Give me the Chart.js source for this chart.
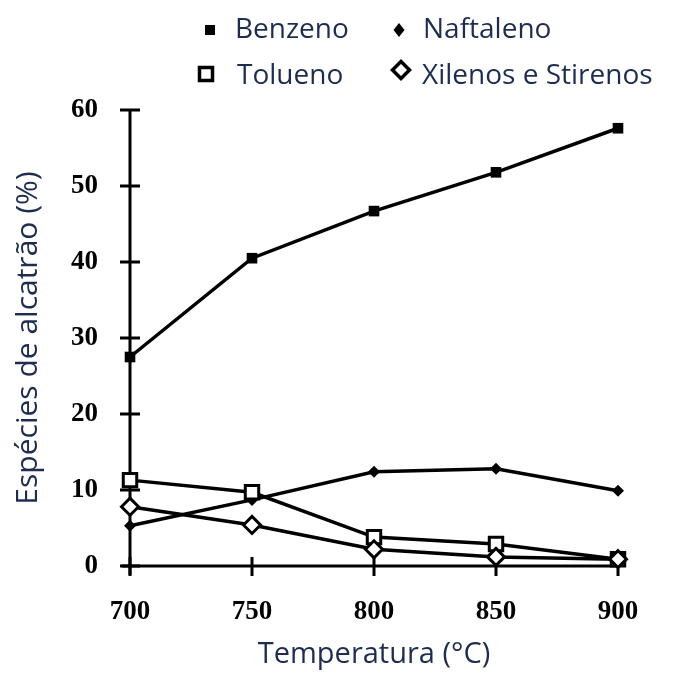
<!DOCTYPE html>
<html>
<head>
<meta charset="utf-8">
<script src="https://cdn.jsdelivr.net/npm/chart.js@4/dist/chart.umd.min.js"></script>
<style>
  html, body { margin: 0; padding: 0; background: #ffffff; }
  #wrap { position: relative; width: 673px; height: 673px; }
  #chart { position: absolute; left: 0; top: 0; }
  .lg { position: absolute; font-family: "Open Sans", sans-serif; font-size: 28px; line-height: 38px; color: #1e2d4f; white-space: nowrap; }
  .mk { position: absolute; }
</style>
</head>
<body>
<div id="wrap">
  <canvas id="chart" width="673" height="673"></canvas>
  <svg class="mk" style="left:204px;top:24px" width="12" height="12"><rect x="1" y="1" width="10" height="10" fill="#000"/></svg>
  <div class="lg" style="left:235px;top:8px">Benzeno</div>
  <svg class="mk" style="left:392px;top:22px" width="14" height="16"><polygon points="7,1 12.5,8 7,15 1.5,8" fill="#000"/></svg>
  <div class="lg" style="left:423px;top:8px">Naftaleno</div>
  <svg class="mk" style="left:197px;top:65px" width="18" height="18"><rect x="2.5" y="2.5" width="13" height="13" fill="#fff" stroke="#000" stroke-width="3.5"/></svg>
  <div class="lg" style="left:237px;top:54px">Tolueno</div>
  <svg class="mk" style="left:390px;top:59px" width="22" height="22"><polygon points="11,2.5 19.5,11 11,19.5 2.5,11" fill="#fff" stroke="#000" stroke-width="3.5"/></svg>
  <div class="lg" style="left:422px;top:54px">Xilenos e Stirenos</div>
</div>
<script>
// ---- data ----
const temperatures = [700, 750, 800, 850, 900];
const benzeno   = [27.5, 40.5, 46.7, 51.8, 57.6];
const naftaleno = [5.3, 8.7, 12.4, 12.8, 9.9];
const tolueno   = [11.3, 9.7, 3.8, 2.9, 0.9];
const xilenos   = [7.8, 5.4, 2.2, 1.2, 0.9];
const seriesNames = ["Benzeno", "Naftaleno", "Tolueno", "Xilenos e Stirenos"];
const xTicks = [700, 750, 800, 850, 900];
const yTicks = [0, 10, 20, 30, 40, 50, 60];
const xTitle = "Temperatura (°C)";
const yTitle = "Espécies de alcatrão (%)";

const toPoints = vals => vals.map((v, i) => ({ x: temperatures[i], y: v }));

const titleColor = "#1e2d4f";
const tickFont = { family: "Liberation Serif", size: 27, weight: "bold" };

const crossTicks = {
  id: "crossTicks",
  beforeDatasetsDraw(chart) {
    const { ctx } = chart;
    const xs = chart.scales.x, ys = chart.scales.y;
    const x0 = xs.getPixelForValue(700);
    const y0 = ys.getPixelForValue(0);
    ctx.save();
    ctx.strokeStyle = "#000";
    ctx.lineWidth = 3;
    ctx.lineCap = "butt";
    ctx.beginPath();
    ctx.moveTo(x0, ys.getPixelForValue(60));
    ctx.lineTo(x0, y0 + 9);
    ctx.moveTo(x0 - 8, y0);
    ctx.lineTo(xs.getPixelForValue(900) + 2, y0);
    ctx.stroke();
    ctx.beginPath();
    yTicks.forEach(v => {
      const y = ys.getPixelForValue(v);
      ctx.moveTo(x0 - 10, y);
      ctx.lineTo(x0 + 10, y);
    });
    xTicks.forEach(v => {
      const x = xs.getPixelForValue(v);
      ctx.moveTo(x, y0 - 9);
      ctx.lineTo(x, y0 + 10);
    });
    ctx.stroke();
    ctx.restore();
  }
};

new Chart(document.getElementById("chart"), {
  type: "line",
  data: {
    datasets: [
      { label: seriesNames[0], data: toPoints(benzeno), order: 3, clip: false,
        borderColor: "#000", backgroundColor: "#000", borderWidth: 3.5,
        pointStyle: "rect", pointRadius: 7.5, pointBorderWidth: 0, pointBackgroundColor: "#000" },
      { label: seriesNames[1], data: toPoints(naftaleno), order: 2, clip: false,
        borderColor: "#000", backgroundColor: "#000", borderWidth: 3.5,
        pointStyle: "rectRot", pointRadius: 6, pointBorderWidth: 0, pointBackgroundColor: "#000" },
      { label: seriesNames[2], data: toPoints(tolueno), order: 1, clip: false,
        borderColor: "#000", backgroundColor: "#fff", borderWidth: 3.5,
        pointStyle: "rect", pointRadius: 9.5, pointBorderWidth: 3, pointBorderColor: "#000", pointBackgroundColor: "#fff" },
      { label: seriesNames[3], data: toPoints(xilenos), order: 0, clip: false,
        borderColor: "#000", backgroundColor: "#fff", borderWidth: 3.5,
        pointStyle: "rectRot", pointRadius: 8.5, pointBorderWidth: 3, pointBorderColor: "#000", pointBackgroundColor: "#fff" }
    ]
  },
  options: {
    responsive: false,
    animation: false,
    layout: { padding: { top: 110, right: 55, bottom: 0, left: 0 } },
    plugins: { legend: { display: false }, tooltip: { enabled: false } },
    elements: { line: { tension: 0, fill: false } },
    scales: {
      x: {
        type: "linear", min: 700, max: 900,
        afterBuildTicks: s => { s.ticks = xTicks.map(v => ({ value: v })); },
        afterFit: s => { s.height = 107; },
        grid: { display: false },
        border: { display: false },
        ticks: { color: "#000", font: tickFont, padding: 22, maxRotation: 0 },
        title: { display: true, text: xTitle, color: titleColor,
                 font: { family: "Open Sans", size: 29 }, padding: { top: 0, bottom: 1 } }
      },
      y: {
        type: "linear", min: 0, max: 60,
        afterBuildTicks: s => { s.ticks = yTicks.map(v => ({ value: v })); },
        afterFit: s => { s.width = 130; },
        grid: { display: false },
        border: { display: false },
        ticks: { color: "#000", font: tickFont, padding: 24 },
        title: { display: true, text: yTitle, color: titleColor,
                 font: { family: "Open Sans", size: 30 }, padding: { top: 10, bottom: 0 } }
      }
    }
  },
  plugins: [crossTicks]
});
</script>
</body>
</html>
